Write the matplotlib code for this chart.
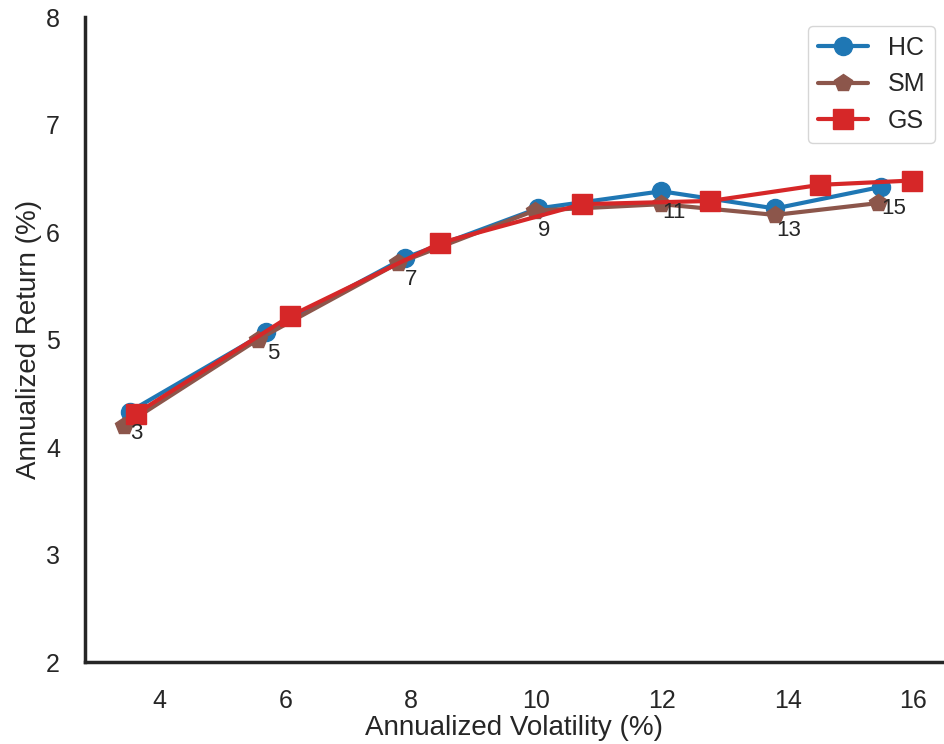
import matplotlib
matplotlib.use("Agg")
import matplotlib.pyplot as plt
import seaborn as sns

sns.set_theme(style="white")
plt.rcParams['font.family'] = ['Liberation Sans', 'DejaVu Sans']

labels = [3, 5, 7, 9, 11, 13, 15]
hc_vol = [3.52, 5.70, 7.90, 10.02, 11.99, 13.80, 15.48]
hc_ret = [4.33, 5.07, 5.76, 6.22, 6.38, 6.22, 6.42]
sm_vol = [3.43, 5.56, 7.79, 9.97, 11.99, 13.80, 15.44]
sm_ret = [4.20, 5.00, 5.71, 6.20, 6.26, 6.16, 6.27]
gs_vol = [3.62, 6.08, 8.47, 10.73, 12.77, 14.52, 15.98]
gs_ret = [4.31, 5.22, 5.90, 6.26, 6.29, 6.44, 6.48]

fig = plt.figure(figsize=(9.44, 7.44), dpi=100)
ax = fig.add_axes([0.090, 0.110, 0.910, 0.867])

ax.plot(hc_vol, hc_ret, marker='o', color='#1f77b4', lw=3, ms=13, label='HC')
ax.plot(sm_vol, sm_ret, marker='p', color='#8c564b', lw=3, ms=13, label='SM')
ax.plot(gs_vol, gs_ret, marker='s', color='#d62728', lw=3, ms=14, label='GS')

for v, r, t in zip(hc_vol, hc_ret, labels):
    ax.annotate(str(t), (v, r), xytext=(0.5, -8), textcoords='offset points',
                ha='left', va='top', fontsize=16, color='#262626')

ax.set_xlim(2.81, 16.49)
ax.set_ylim(2, 8)
ax.set_xticks([4, 6, 8, 10, 12, 14, 16])
ax.set_yticks([2, 3, 4, 5, 6, 7, 8])
ax.tick_params(labelsize=18, colors='#262626')
ax.tick_params(axis='x', pad=13)
ax.tick_params(axis='y', pad=12)
ax.set_xlabel('Annualized Volatility (%)', fontsize=20, color='#262626', labelpad=2)
ax.set_ylabel('Annualized Return (%)', fontsize=20, color='#262626', labelpad=3)
for s in ['top', 'right']:
    ax.spines[s].set_visible(False)
for s in ['left', 'bottom']:
    ax.spines[s].set_color('#262626')
    ax.spines[s].set_linewidth(2.5)

ax.legend(loc='upper right', fontsize=18, frameon=True, borderaxespad=0.35)

fig.savefig('out.png', dpi=100)
